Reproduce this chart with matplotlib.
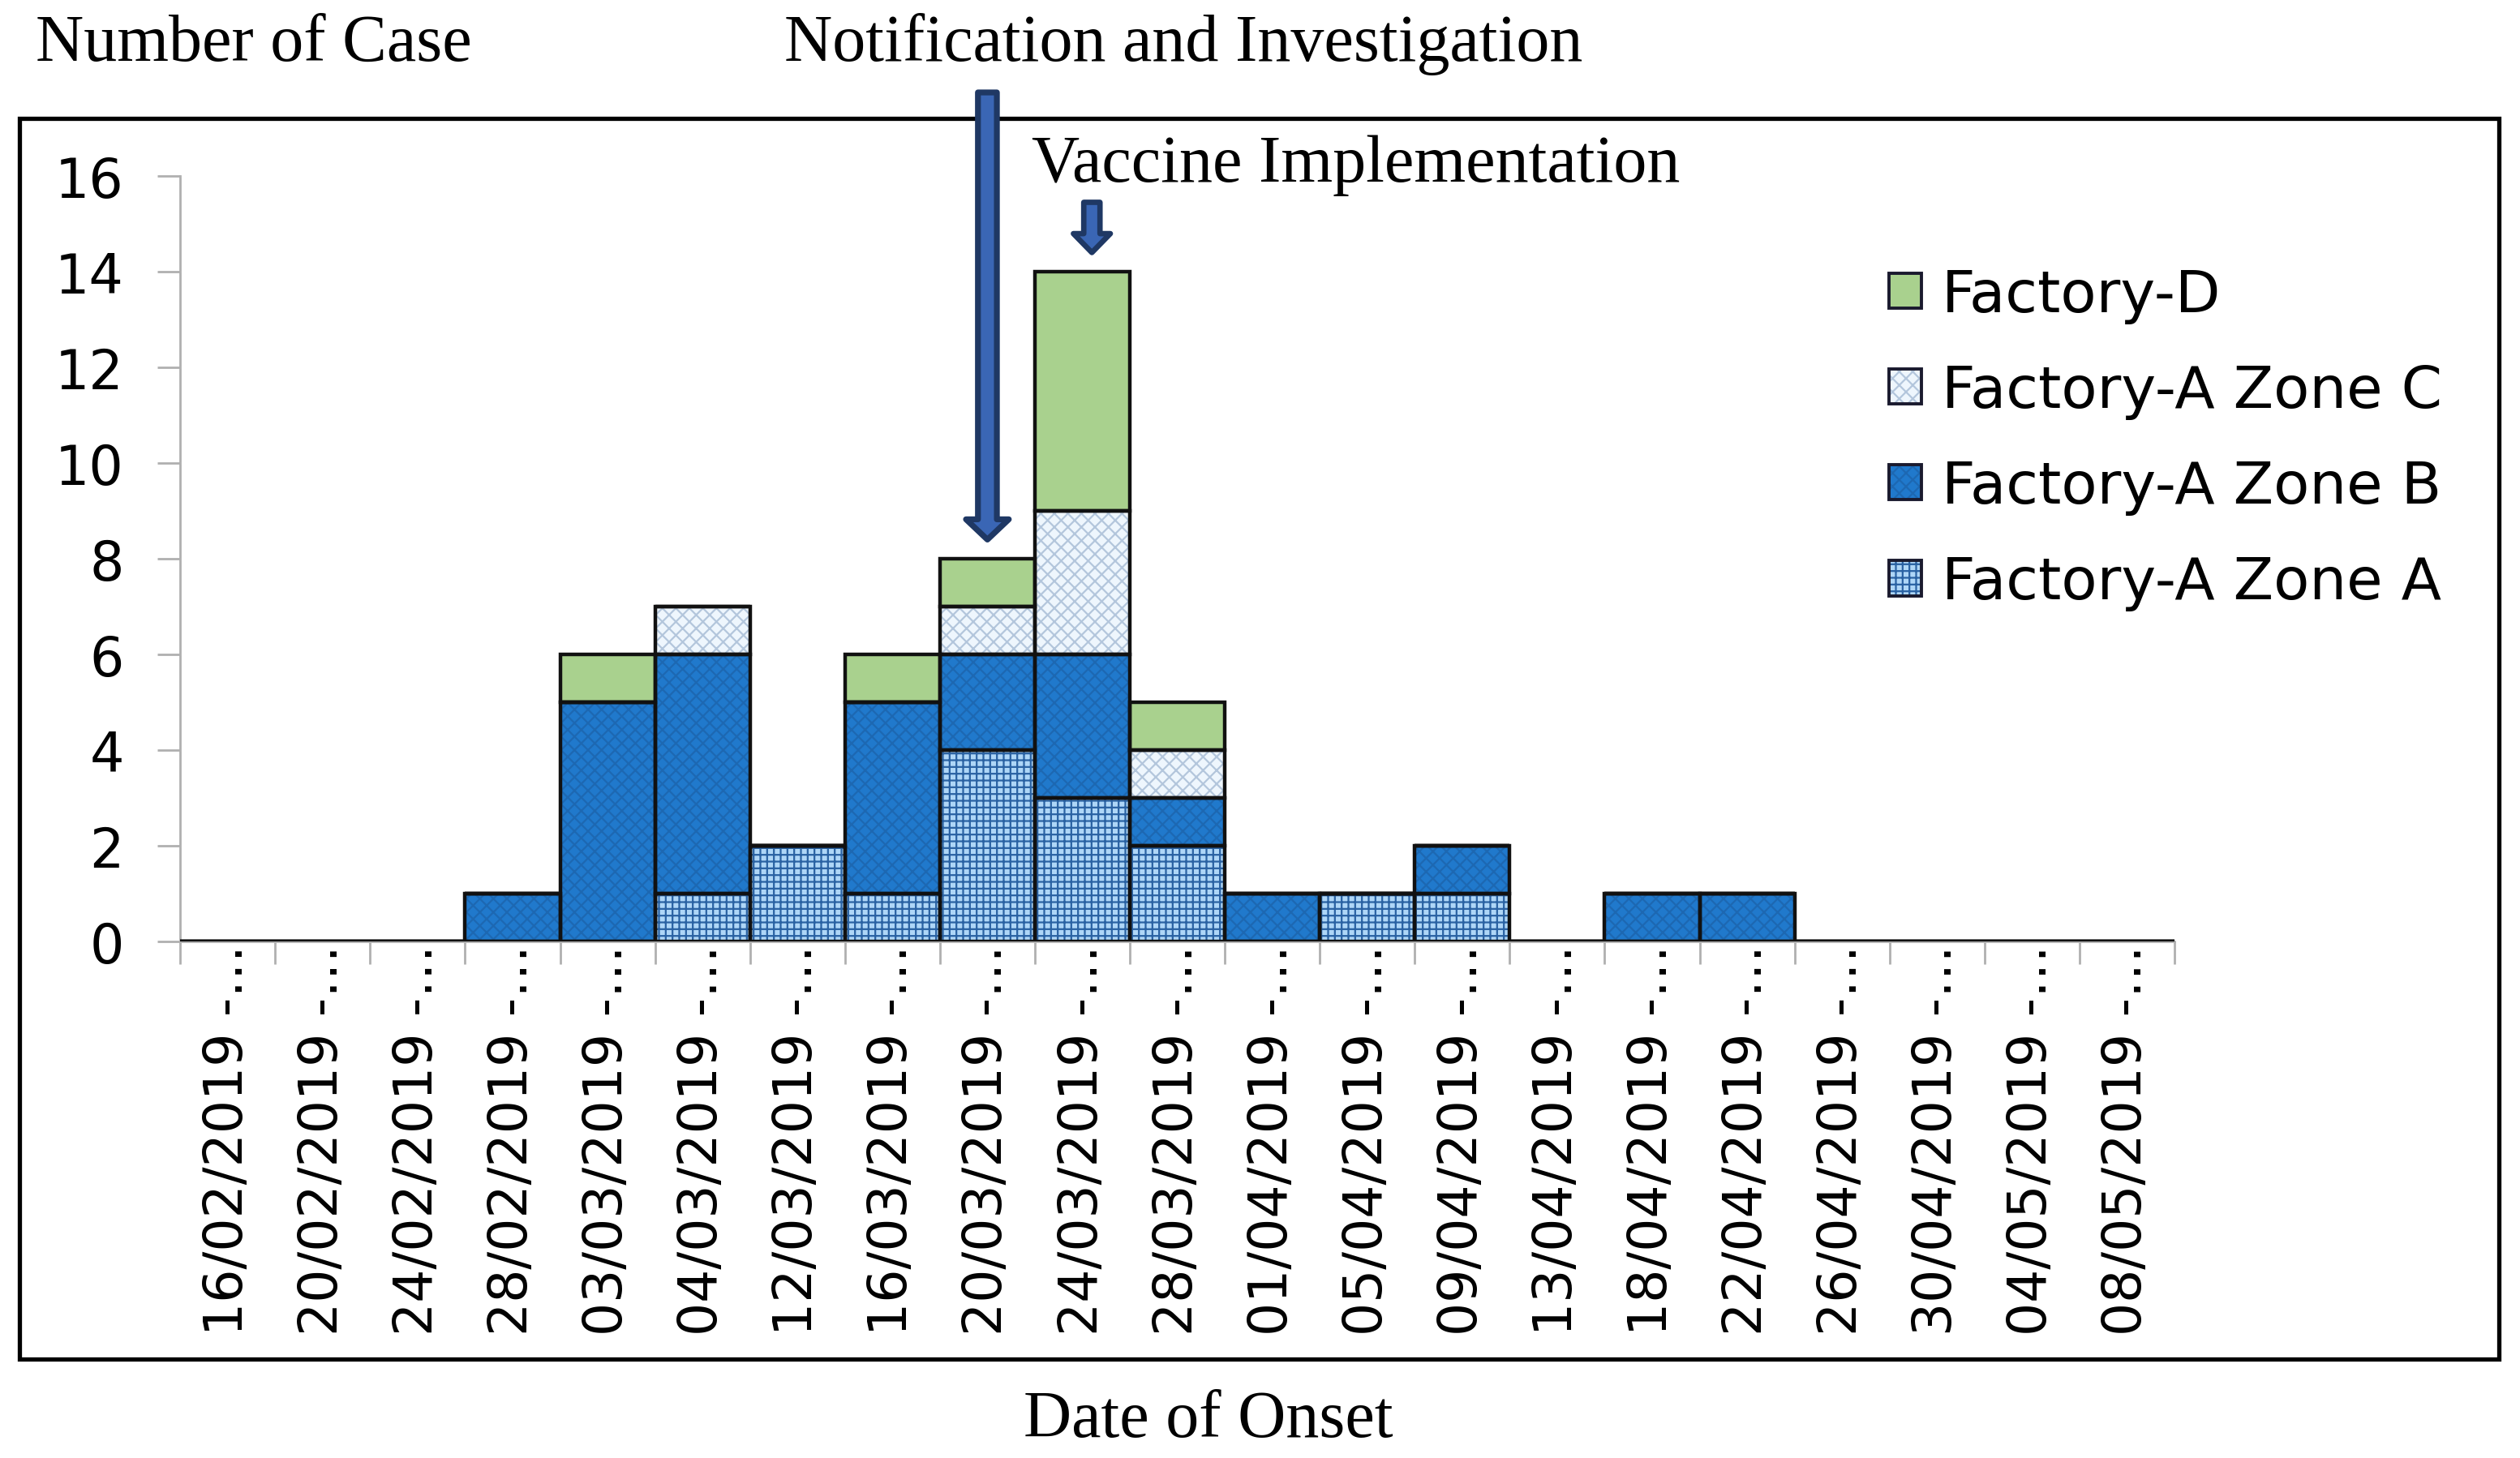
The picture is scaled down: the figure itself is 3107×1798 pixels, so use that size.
import numpy as np
import matplotlib
matplotlib.use("Agg")
import matplotlib.pyplot as plt
import matplotlib.patches as mpatches
from matplotlib.transforms import blended_transform_factory

# onset dates (labels are cut off in the source chart)
dates = ['16/02/2019', '20/02/2019', '24/02/2019', '28/02/2019', '03/03/2019',
         '04/03/2019', '12/03/2019', '16/03/2019', '20/03/2019', '24/03/2019',
         '28/03/2019', '01/04/2019', '05/04/2019', '09/04/2019', '13/04/2019',
         '18/04/2019', '22/04/2019', '26/04/2019', '30/04/2019', '04/05/2019',
         '08/05/2019']

zone_a = [0, 0, 0, 0, 0, 1, 2, 1, 4, 3, 2, 0, 1, 1, 0, 0, 0, 0, 0, 0, 0]
zone_b = [0, 0, 0, 1, 5, 5, 0, 4, 2, 3, 1, 1, 0, 1, 0, 1, 1, 0, 0, 0, 0]
zone_c = [0, 0, 0, 0, 0, 1, 0, 0, 1, 3, 1, 0, 0, 0, 0, 0, 0, 0, 0, 0, 0]
factory_d = [0, 0, 0, 0, 1, 0, 0, 1, 1, 5, 1, 0, 0, 0, 0, 0, 0, 0, 0, 0, 0]

notif_date = '20/03/2019'
vaccine_date = '24/03/2019'

SERIF = 'Liberation Serif'
SANS = 'DejaVu Sans'

# (label, values, facecolor, hatch, hatchcolor)
series = [
    ('Factory-A Zone A', zone_a, '#aed6f7', '++++', '#2a62a3'),
    ('Factory-A Zone B', zone_b, '#2079cc', 'xxxx', '#1d68b2'),
    ('Factory-A Zone C', zone_c, '#eef6fd', 'xxxx', '#b3c6dc'),
    ('Factory-D', factory_d, '#a9d18e', None, '#a9d18e'),
]

plt.rcParams['hatch.linewidth'] = 0.8

fig = plt.figure(figsize=(3107 / 200, 1799 / 200), dpi=200)
ax = fig.add_axes([0.0715, 0.3541, 0.7914, 0.5247])
ax.patch.set_visible(False)

x = np.arange(len(dates))
bottom = np.zeros(len(dates))
handles = []
for label, vals, fc, hatch, hc in series:
    vals = np.array(vals, dtype=float)
    ax.bar(x, vals, width=1.0, bottom=bottom, color=fc, hatch=hatch,
           edgecolor=hc, linewidth=0, zorder=2)
    ax.bar(x, vals, width=1.0, bottom=bottom, fill=False,
           edgecolor='#111111', linewidth=1.6, zorder=3)
    bottom += vals
    h_fill = mpatches.Patch(facecolor=fc, hatch=hatch, edgecolor=hc, linewidth=0)
    h_edge = mpatches.Patch(fill=False, edgecolor='#1a1a2e', linewidth=1.4)
    handles.append(((h_fill, h_edge), label))

ax.set_xlim(-0.5, len(dates) - 0.5)
ax.set_ylim(0, 16)
ax.set_yticks(np.arange(0, 17, 2))
ax.set_xticks(x)
ax.set_xticklabels([d + ' -\u2026' for d in dates], rotation=90,
                   fontsize=23.3, family=SANS)
ax.set_xticks(np.arange(-0.5, len(dates), 1.0), minor=True)
ax.tick_params(axis='x', which='major', length=0, pad=1)
ax.tick_params(axis='x', which='minor', length=10, width=1.0, color='#b0b0b0')
ax.tick_params(axis='y', length=10, width=1.0, color='#b0b0b0', pad=15,
               labelsize=24)
for t in ax.get_yticklabels():
    t.set_family(SANS)

for side in ['top', 'right']:
    ax.spines[side].set_visible(False)
for side in ['left', 'bottom']:
    ax.spines[side].set_color('#b0b0b0')
    ax.spines[side].set_linewidth(1.0)

# legend, top series first
leg_items = handles[::-1]
leg = ax.legend([h for h, _ in leg_items], [l for _, l in leg_items],
                loc='upper left', bbox_to_anchor=(0.7496, 0.816),
                bbox_transform=fig.transFigure, frameon=False,
                prop={'family': SANS, 'size': 26},
                handlelength=0.55, handleheight=0.55, handletextpad=0.35,
                labelspacing=0.68, borderpad=0, borderaxespad=0)

# arrows for the two events
blend = blended_transform_factory(ax.transData, fig.transFigure)
xi_n = dates.index(notif_date)
xi_v = dates.index(vaccine_date)
ax.annotate('', xy=(xi_n, 8.4), xycoords='data',
            xytext=(xi_n, 1 - 115 / 1799), textcoords=blend,
            arrowprops=dict(arrowstyle='simple,head_length=0.45,head_width=0.95,tail_width=0.42',
                            fc='#3a66b5', ec='#1f3864', lw=2.6,
                            shrinkA=0, shrinkB=0, mutation_scale=20),
            annotation_clip=False, zorder=6)
ax.annotate('', xy=(xi_v + 0.1, 14.4), xycoords='data',
            xytext=(xi_v + 0.1, 15.45), textcoords='data',
            arrowprops=dict(arrowstyle='simple,head_length=0.42,head_width=0.82,tail_width=0.36',
                            fc='#3a66b5', ec='#1f3864', lw=2.4,
                            shrinkA=0, shrinkB=0, mutation_scale=20),
            annotation_clip=False, zorder=6)

# outer frame
frame = mpatches.Rectangle((24 / 3107, 1 - 1677 / 1799), (3081 - 24) / 3107,
                           (1677 - 147) / 1799, transform=fig.transFigure,
                           fill=False, edgecolor='black', linewidth=1.9, zorder=-1)
fig.patches.append(frame)

fig.text(44 / 3107, 1 - 75 / 1799, 'Number of Case', family=SERIF, fontsize=29.5,
         va='baseline', ha='left')
fig.text(967 / 3107, 1 - 75 / 1799, 'Notification and Investigation', family=SERIF,
         fontsize=29.5, va='baseline', ha='left')
fig.text(1272 / 3107, 1 - 224 / 1799, 'Vaccine Implementation', family=SERIF,
         fontsize=29.5, va='baseline', ha='left')
fig.text(1490 / 3107, 1 - 1772 / 1799, 'Date of Onset', family=SERIF,
         fontsize=29.5, va='baseline', ha='center')

fig.savefig('out.png', dpi=200, facecolor='white')
